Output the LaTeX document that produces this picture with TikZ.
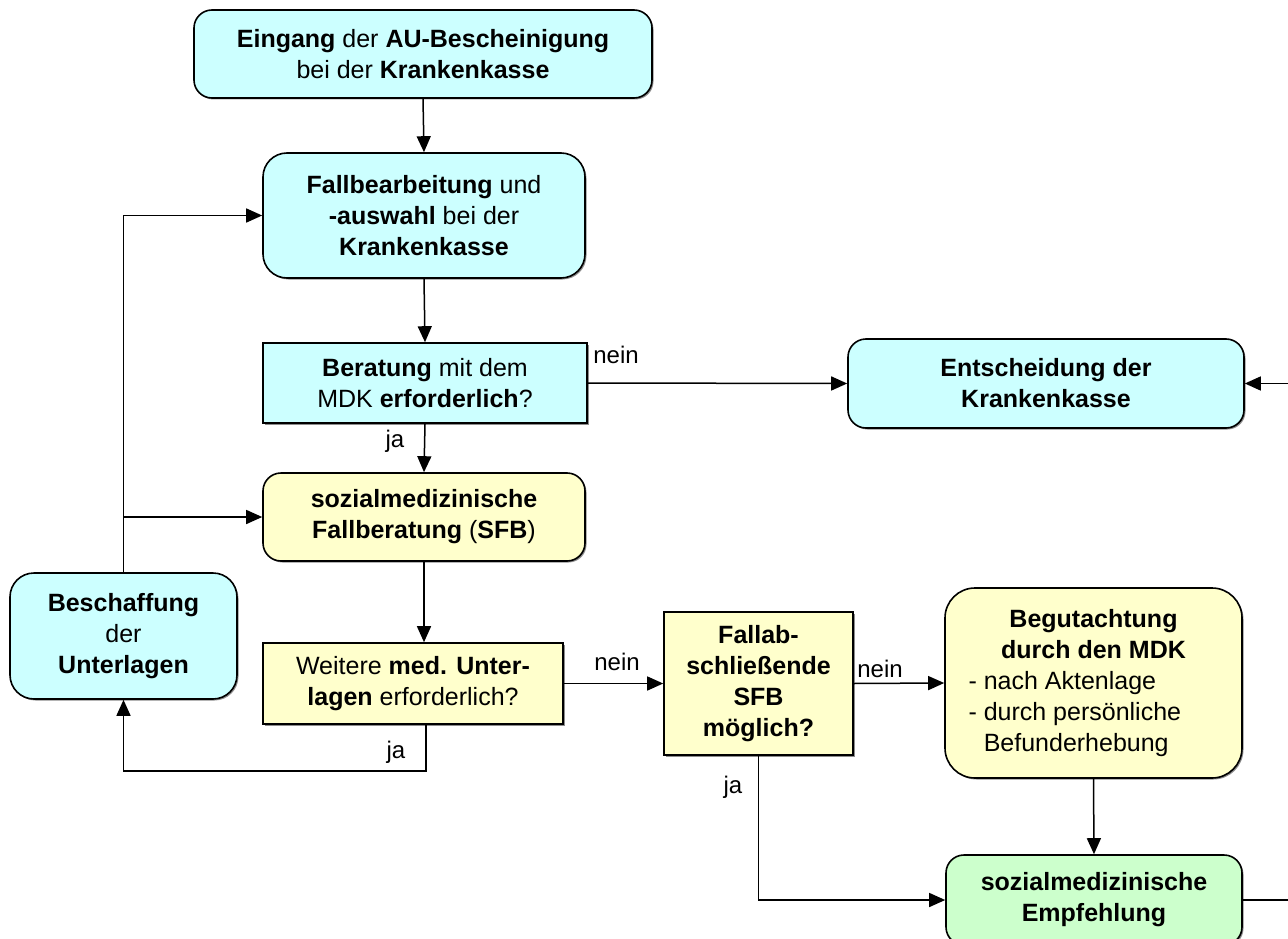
\documentclass[tikz,border=0pt]{standalone}
\usepackage{fontspec}
\setmainfont{Liberation Sans}
\usetikzlibrary{arrows.meta,shadows}
\definecolor{boxcyan}{HTML}{CCFFFF}
\definecolor{boxyellow}{HTML}{FFFFCC}
\definecolor{boxgreen}{HTML}{CCFFCC}
\tikzset{
  box/.style={draw=black, line width=1.6pt, align=center, inner sep=2pt,
    font=\fontsize{25}{31}\selectfont,
    drop shadow={shadow xshift=1.5pt, shadow yshift=-1.5pt, fill=black!45, opacity=1}},
  rbox/.style={box, rounded corners=18pt},
  cyanbox/.style={fill=boxcyan},
  yellowbox/.style={fill=boxyellow},
  greenbox/.style={fill=boxgreen},
  arr/.style={line width=1.5pt, -{Triangle[length=16pt,width=14pt]}},
  ln/.style={line width=1.5pt},
  lbl/.style={font=\fontsize{24}{28}\selectfont, inner sep=0pt}
}
\begin{document}
\begin{tikzpicture}[x=1pt,y=-1pt]
\useasboundingbox (0,0) rectangle (1288,939);
\clip (0,0) rectangle (1288,939);

\node[rbox,cyanbox,minimum width=458pt,minimum height=88pt] (ein) at (423,54)
  {\textbf{Eingang} der \textbf{AU-Bescheinigung}\\ bei der \textbf{Krankenkasse}};
\node[rbox,cyanbox,rounded corners=24pt,minimum width=322pt,minimum height=125pt] (fall) at (424,215.5)
  {\textbf{Fallbearbeitung} und\\ \textbf{-auswahl} bei der\\ \textbf{Krankenkasse}};
\node[box,cyanbox,minimum width=324pt,minimum height=80pt] (ber) at (425,383)
  {\textbf{Beratung} mit dem\\ MDK \textbf{erforderlich}?};
\node[rbox,cyanbox,minimum width=396pt,minimum height=89pt] (ent) at (1046,383.5)
  {\textbf{Entscheidung der}\\ \textbf{Krankenkasse}};
\node[rbox,yellowbox,minimum width=322pt,minimum height=88pt] (sfb) at (424,517)
  {\textbf{sozialmedizinische}\\ \textbf{Fallberatung} (\textbf{SFB})};
\node[rbox,cyanbox,rounded corners=24pt,minimum width=227pt,minimum height=126pt] (bes) at (123.5,636)
  {\textbf{Beschaffung}\\ der\\ \textbf{Unterlagen}};
\node[box,yellowbox,minimum width=300pt,minimum height=81pt] (wei) at (413,683.5)
  {Weitere \textbf{med. Unter-}\\ \textbf{lagen} erforderlich?};
\node[box,yellowbox,minimum width=189pt,minimum height=143pt] (fab) at (758.5,683.5)
  {\textbf{Fallab-}\\ \textbf{schließende}\\ \textbf{SFB}\\ \textbf{möglich?}};
\node[rbox,yellowbox,rounded corners=30pt,minimum width=297pt,minimum height=190pt] (beg) at (1093.5,683)
  {\begin{minipage}{250pt}\centering\textbf{Begutachtung}\\ \textbf{durch den MDK}\par
   \raggedright - nach Aktenlage\\ - durch persönliche\\ \phantom{- }Befunderhebung\end{minipage}};
\node[rbox,greenbox,minimum width=296pt,minimum height=90pt] (emp) at (1094,900)
  {\textbf{sozialmedizinische}\\ \textbf{Empfehlung}};

\coordinate (jw) at (426,771);
\coordinate (rEnt) at (1300,383.5);
\coordinate (rEmp) at (1300,900);

\draw[arr] (ein.south) -- (fall.north);
\draw[arr] (fall.south) -- (ber.north);
\draw[arr] (ber.east) -- (ent.west);
\draw[arr] (ber.south) -- (sfb.north);
\draw[arr] (sfb.south) -- (sfb.south |- wei.north);
\draw[arr] (wei.south -| jw) -- (jw) -| (bes.south);
\draw[arr] (bes.north) |- (fall.west);
\draw[arr] (bes.north |- sfb.west) -- (sfb.west);
\draw[arr] (wei.east) -- (fab.west);
\draw[arr] (fab.east) -- (beg.west);
\draw[arr] (fab.south) |- (emp.west);
\draw[arr] (beg.south) -- (emp.north);
\draw[ln] (emp.east) -- (rEmp);
\draw[arr] (rEnt) -- (ent.east);

\node[lbl] (l1) at (616,355) {nein};
\node[lbl] (l2) at (395,441) {ja};
\node[lbl] (l3) at (617,662) {nein};
\node[lbl] (l4) at (396,752) {ja};
\node[lbl] (l5) at (880,669) {nein};
\node[lbl] (l6) at (733,787) {ja};
\end{tikzpicture}
\end{document}
